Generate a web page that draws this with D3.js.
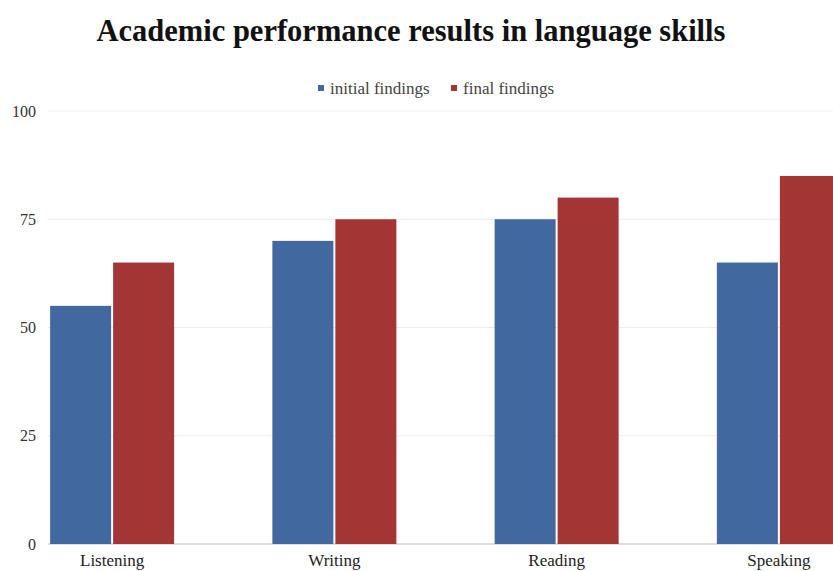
<!DOCTYPE html>
<html>
<head>
<meta charset="utf-8">
<script src="https://cdn.jsdelivr.net/npm/d3@7"></script>
<style>
  body { margin: 0; background: #fff; }
  svg { display: block; font-family: "Liberation Serif", "Times New Roman", serif; }
</style>
</head>
<body>
<div id="chart"></div>
<script>
// Chart data
const categories = ["Listening", "Writing", "Reading", "Speaking"];
const seriesNames = ["initial findings", "final findings"];
const initialFindings = [55, 70, 75, 65];
const finalFindings = [65, 75, 80, 85];
const yTicks = [0, 25, 50, 75, 100];

const colors = ["#4268a0", "#a33535"];

// Size of the SVG container
const width = 833;
const height = 571;

const svg = d3.select("#chart")
  .append("svg")
  .attr("width", width)
  .attr("height", height);

// Scales
const x0 = d3.scaleBand()
  .domain(categories)
  .range([1, 890])
  .padding(0);

const groupWidth = 126;
const x1 = d3.scaleBand()
  .domain(seriesNames)
  .range([x0.bandwidth() / 2 - groupWidth / 2, x0.bandwidth() / 2 + groupWidth / 2])
  .padding(0);

const y = d3.scaleLinear()
  .domain([0, 100])
  .range([544, 111]);

// Grid lines
svg.append("g")
  .selectAll("line")
  .data(yTicks)
  .enter()
  .append("line")
  .attr("x1", 48)
  .attr("x2", width)
  .attr("y1", d => y(d))
  .attr("y2", d => y(d))
  .attr("stroke", d => d === 0 ? "#d4d4d4" : "#ececec")
  .attr("stroke-width", d => d === 0 ? 1.5 : 1);

// Y axis labels
const yAxis = d3.axisLeft(y)
  .tickValues(yTicks)
  .tickSize(0)
  .tickPadding(0);

svg.append("g")
  .attr("transform", "translate(36,0)")
  .call(yAxis)
  .call(g => g.select(".domain").remove())
  .call(g => g.selectAll("text")
    .attr("font-family", "Liberation Serif, serif")
    .attr("font-size", 16)
    .attr("fill", "#333"));

// Bars
const rows = categories.map((c, i) => ({
  category: c,
  values: [initialFindings[i], finalFindings[i]]
}));

const groups = svg.append("g")
  .selectAll("g")
  .data(rows)
  .enter()
  .append("g")
  .attr("transform", d => "translate(" + x0(d.category) + ",0)");

groups.selectAll("rect")
  .data(d => d.values.map((v, j) => ({ name: seriesNames[j], value: v, j: j })))
  .enter()
  .append("rect")
  .attr("x", d => x1(d.name) + 1)
  .attr("width", x1.bandwidth() - 2)
  .attr("y", d => y(d.value))
  .attr("height", d => y(0) - y(d.value))
  .attr("fill", d => colors[d.j]);

// Category labels
const xAxis = d3.axisBottom(x0)
  .tickSize(0)
  .tickPadding(0);

svg.append("g")
  .attr("transform", "translate(0,554)")
  .call(xAxis)
  .call(g => g.select(".domain").remove())
  .call(g => g.selectAll("text")
    .attr("dy", "0.71em")
    .attr("font-family", "Liberation Serif, serif")
    .attr("font-size", 17)
    .attr("fill", "#222"));

// Title
svg.append("text")
  .attr("x", 411)
  .attr("y", 41)
  .attr("text-anchor", "middle")
  .attr("font-size", 30.5)
  .attr("font-weight", "bold")
  .attr("fill", "#111")
  .text("Academic performance results in language skills");

// Legend
const legendItems = [
  { name: seriesNames[0], color: colors[0], x: 318 },
  { name: seriesNames[1], color: colors[1], x: 451 }
];

const legend = svg.append("g")
  .selectAll("g")
  .data(legendItems)
  .enter()
  .append("g")
  .attr("transform", d => "translate(" + d.x + ",0)");

legend.append("rect")
  .attr("x", 0)
  .attr("y", 85)
  .attr("width", 6)
  .attr("height", 6)
  .attr("fill", d => d.color);

legend.append("text")
  .attr("x", 12)
  .attr("y", 94)
  .attr("font-size", 17)
  .attr("fill", "#444")
  .text(d => d.name);
</script>
</body>
</html>
